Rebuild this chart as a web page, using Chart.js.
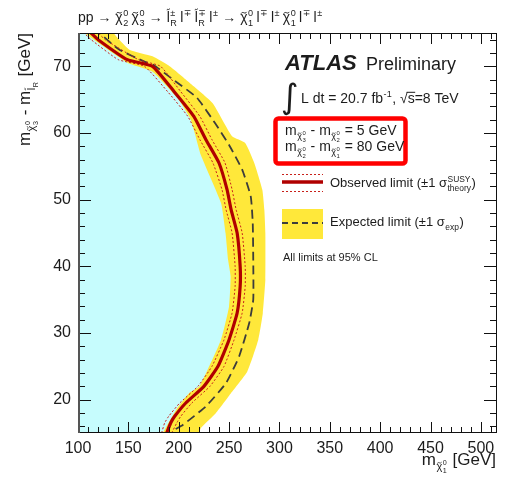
<!DOCTYPE html>
<html>
<head>
<meta charset="utf-8">
<title>Slepton-mediated chargino/neutralino exclusion</title>
<script src="https://cdn.jsdelivr.net/npm/chart.js@4.4.1/dist/chart.umd.min.js"></script>
<style>
  html, body { margin: 0; padding: 0; background: #fff; }
</style>
</head>
<body>
<canvas id="limitChart" width="508" height="482"></canvas>
<script>
// Contours in the (m(chi1), m(chi3) - m(slepton)) plane, listed bottom to top.
// Observed limit and its +-1 sigma theory variations share the same y points.
const obsY  = [15, 16.5, 17.5, 19.5, 22, 25, 29, 33, 37, 40, 45, 48.5, 51.5, 55.5, 59, 62.5, 66.2, 70, 71, 74, 75];
const obsX  = [188, 192, 196, 207, 225, 239, 250, 258, 261, 261, 258, 252, 248, 240, 227, 215, 195.5, 174, 149, 120, 113];
const thUpX = [193, 198, 202, 213, 231, 245, 255, 263, 266, 266, 263, 257, 253, 246, 233, 221, 202, 182, 160, 127, 120];
const thDnX = [183, 186, 190, 201, 219, 233, 245, 253, 256, 256, 253, 247, 243, 234, 221, 209, 189, 166, 140, 113, 106];

// Expected limit (dashed)
const expY = [15.6, 16.2, 19, 22.5, 26.5, 31.5, 35, 41, 46.5, 50.5, 54.5, 58.2, 61.5, 65.3, 67.95, 70.2, 70.7, 72.45, 73.45, 75];
const expX = [197, 204, 227, 247, 260, 270, 274, 274, 273.5, 271.5, 263, 250, 236, 218, 195, 175, 166, 141.5, 133, 121.5];

// Outer edge of the +-1 sigma experimental band
const bandY = [15, 15.75, 18, 21, 24.2, 29, 33, 38, 45, 48.5, 51.5, 55.5, 58.5, 59.5, 64.5, 67.5, 70, 71.5, 72.5, 75];
const bandX = [220, 222, 237, 252, 268, 279, 283.5, 286, 286, 285, 283, 275, 266, 253, 233.5, 211, 191, 174, 151, 135];

// Edge of the excluded (cyan) region
const exclY = [15, 15.5, 18.5, 21, 22, 29, 34, 38.5, 41, 45, 49.5, 56.7, 62, 65.2, 69.2, 70.5, 75];
const exclX = [184, 186, 197.5, 210.5, 220.5, 242, 250, 251.5, 249, 246.5, 242, 222, 212, 199, 174, 149.5, 106.5];

const xTicks = [100, 150, 200, 250, 300, 350, 400, 450, 500];
const yTicks = [20, 30, 40, 50, 60, 70];

const FONT = '"Liberation Sans", Arial, "DejaVu Sans", sans-serif';
const INK = '#1c1c1c';

function pts(xs, ys) {
  return xs.map((x, i) => ({x: x, y: ys[i]}));
}

function curve(xs, ys, opts) {
  return Object.assign({
    data: pts(xs, ys),
    pointRadius: 0,
    tension: 0.15,
    fill: false,
    borderWidth: 0
  }, opts);
}

// tiny rich-text renderer: tildes, overlines, stacked sub/superscripts
function tilde(ctx, x, cy, w, size) {
  const h = size * 0.06;
  ctx.save();
  ctx.lineWidth = Math.max(0.7, size * 0.07);
  ctx.strokeStyle = ctx.fillStyle;
  ctx.beginPath();
  ctx.moveTo(x, cy + h);
  ctx.bezierCurveTo(x + w * 0.35, cy - h * 2.6, x + w * 0.65, cy + h * 2.6, x + w, cy - h);
  ctx.stroke();
  ctx.restore();
}

function rich(ctx, parts, x, y, size, draw) {
  let w = 0;
  for (const p of [].concat(parts)) {
    const it = typeof p === 'string' ? {t: p} : p;
    ctx.font = (it.style ? it.style + ' ' : '') + size + 'px ' + FONT;
    const bw = ctx.measureText(it.t).width;
    if (draw) {
      ctx.fillText(it.t, x + w, y);
      if (it.tilde) tilde(ctx, x + w + bw * 0.12, y - size * (it.tall ? 0.9 : 0.66), bw * 0.76, size);
      if (it.over) ctx.fillRect(x + w - 1, y - size * 0.8, bw + 1.5, Math.max(1, size * 0.06));
    }
    let sw = 0;
    if (it.sup) sw = rich(ctx, it.sup, x + w + bw + 0.5, y - size * 0.42, size * 0.65, draw);
    if (it.sub) sw = Math.max(sw, rich(ctx, it.sub, x + w + bw + 0.5, y + size * 0.3, size * 0.65, draw));
    w += bw + (sw ? sw + 1 : 0);
  }
  return w;
}

const chi = n => ({t: 'χ', tilde: true, sup: '0', sub: String(n)});
const slep = s => ({t: 'l', tilde: true, tall: true, sup: s, sub: 'R'});
const lep = s => ({t: 'l', sup: s});
const gap = '\u2009';

const titleText = ['pp → ', chi(2), gap, chi(3), ' → ', slep('±'), gap, lep('∓'), gap, slep('∓'), gap, lep('±'), ' → ',
  chi(1), gap, lep('∓'), gap, lep('±'), gap, chi(1), gap, lep('∓'), gap, lep('±')];
const yTitle = [{t: 'm', sub: [chi(3)]}, ' - ', {t: 'm', sub: [{t: 'l', tilde: true, tall: true, sub: 'R'}]}, ' [GeV]'];
const xTitle = [{t: 'm', sub: [chi(1)]}, ' [GeV]'];
const lumiText = ['L dt = 20.7 ', {t: 'fb', sup: '-1'}, ', √', {t: 's', over: true}, '=8 TeV'];
const split1 = [{t: 'm', sub: [chi(3)]}, ' - ', {t: 'm', sub: [chi(2)]}, ' = 5 GeV'];
const split2 = [{t: 'm', sub: [chi(2)]}, ' - ', {t: 'm', sub: [chi(1)]}, ' = 80 GeV'];
const obsLabel = ['Observed limit (±1 ', {t: 'σ', sup: 'SUSY', sub: 'theory'}, ')'];
const expLabel = ['Expected limit (±1 ', {t: 'σ', sub: 'exp'}, ')'];

// frame with inward ticks on all four sides
const framePlugin = {
  id: 'frame',
  afterDatasetsDraw(chart) {
    const {ctx, chartArea: a, scales: {x, y}} = chart;
    ctx.save();
    ctx.strokeStyle = '#111';
    ctx.lineWidth = 1;
    ctx.beginPath();
    for (let v = 100; v <= 516; v += 10) {
      const px = Math.round(x.getPixelForValue(v)) + 0.5;
      const len = v % 50 === 0 ? 11 : 6;
      ctx.moveTo(px, a.bottom); ctx.lineTo(px, a.bottom - len);
      ctx.moveTo(px, a.top); ctx.lineTo(px, a.top + len);
    }
    for (let v = 16; v <= 75; v += 2) {
      const py = Math.round(y.getPixelForValue(v)) + 0.5;
      const len = v % 10 === 0 ? 13 : 7;
      ctx.moveTo(a.left, py); ctx.lineTo(a.left + len, py);
      ctx.moveTo(a.right, py); ctx.lineTo(a.right - len, py);
    }
    ctx.stroke();
    ctx.strokeRect(a.left + 0.5, a.top + 0.5, a.width - 1, a.height - 1);
    ctx.strokeStyle = '#555';
    ctx.lineWidth = 2;
    ctx.beginPath();
    ctx.moveTo(a.left + 1, a.top); ctx.lineTo(a.left + 1, a.bottom);
    ctx.stroke();
    ctx.restore();
  }
};

// titles, ATLAS label, mass-splitting box and legend
const textPlugin = {
  id: 'texts',
  afterDraw(chart) {
    const ctx = chart.ctx;
    ctx.save();
    ctx.fillStyle = INK;
    ctx.textBaseline = 'alphabetic';

    rich(ctx, titleText, 78, 22, 14, true);

    const xw = rich(ctx, xTitle, 0, 0, 17, false);
    rich(ctx, xTitle, 496 - xw, 465, 17, true);

    ctx.save();
    ctx.translate(30, 33);
    ctx.rotate(-Math.PI / 2);
    const yw = rich(ctx, yTitle, 0, 0, 17, false);
    rich(ctx, yTitle, -yw, 0, 17, true);
    ctx.restore();

    ctx.font = 'italic bold 22px ' + FONT;
    ctx.fillText('ATLAS', 285, 70);
    ctx.font = '18px ' + FONT;
    ctx.fillText('Preliminary', 366, 70);

    ctx.font = '34px "DejaVu Sans", sans-serif';
    ctx.fillText('∫', 281, 108);
    rich(ctx, lumiText, 301, 103, 14, true);

    ctx.strokeStyle = '#ff0000';
    ctx.lineWidth = 4.5;
    ctx.beginPath();
    ctx.roundRect(275.5, 118.5, 130, 45, 3);
    ctx.stroke();
    ctx.fillStyle = INK;
    rich(ctx, split1, 285, 135, 14, true);
    rich(ctx, split2, 285, 151, 14, true);

    // observed legend sample
    ctx.strokeStyle = '#b00000';
    ctx.lineWidth = 3.5;
    ctx.beginPath(); ctx.moveTo(282, 182); ctx.lineTo(323, 182); ctx.stroke();
    ctx.lineWidth = 1;
    ctx.setLineDash([2, 2]);
    ctx.strokeStyle = '#c8201a';
    ctx.beginPath();
    ctx.moveTo(282, 174.5); ctx.lineTo(323, 174.5);
    ctx.moveTo(282, 191.5); ctx.lineTo(323, 191.5);
    ctx.stroke();
    ctx.setLineDash([]);
    rich(ctx, obsLabel, 330, 187, 13, true);

    // expected legend sample
    ctx.fillStyle = '#ffe83a';
    ctx.fillRect(282, 209, 41, 30);
    ctx.strokeStyle = '#3c3c3c';
    ctx.lineWidth = 1.8;
    ctx.setLineDash([6, 4]);
    ctx.beginPath(); ctx.moveTo(282, 223); ctx.lineTo(323, 223); ctx.stroke();
    ctx.setLineDash([]);
    ctx.fillStyle = INK;
    rich(ctx, expLabel, 330, 226, 13, true);

    ctx.font = '11px ' + FONT;
    ctx.fillText('All limits at 95% CL', 283, 261);
    ctx.restore();
  }
};

new Chart(document.getElementById('limitChart'), {
  type: 'line',
  data: {
    datasets: [
      curve(obsX, obsY, {borderColor: '#b00000', borderWidth: 3.2}),
      curve(thUpX, obsY, {borderColor: '#c8201a', borderWidth: 1, borderDash: [2, 2]}),
      curve(thDnX, obsY, {borderColor: '#c8201a', borderWidth: 1, borderDash: [2, 2]}),
      curve(expX, expY, {borderColor: '#3c3c3c', borderWidth: 1.8, borderDash: [9, 5]}),
      curve(exclX, exclY, {backgroundColor: '#c6fcfd', fill: {value: 100}}),
      curve(bandX, bandY, {backgroundColor: '#ffe83a', fill: {value: 100}})
    ]
  },
  options: {
    indexAxis: 'y',
    responsive: false,
    animation: false,
    events: [],
    layout: {padding: {top: 33, right: 11, left: 0, bottom: 0}},
    plugins: {
      legend: {display: false},
      tooltip: {enabled: false}
    },
    scales: {
      x: {
        type: 'linear',
        min: 100,
        max: 516,
        grid: {display: false, drawTicks: false},
        border: {display: false},
        afterBuildTicks: s => { s.ticks = xTicks.map(v => ({value: v})); },
        afterFit: s => { s.height = 49; },
        ticks: {
          autoSkip: false, maxRotation: 0, padding: 6,
          color: INK, font: {family: FONT, size: 16}
        }
      },
      y: {
        type: 'linear',
        min: 15,
        max: 75,
        grid: {display: false, drawTicks: false},
        border: {display: false},
        afterBuildTicks: s => { s.ticks = yTicks.map(v => ({value: v})); },
        afterFit: s => { s.width = 78; },
        ticks: {
          autoSkip: false, padding: 7,
          color: INK, font: {family: FONT, size: 16}
        }
      }
    }
  },
  plugins: [framePlugin, textPlugin]
});
</script>
</body>
</html>
